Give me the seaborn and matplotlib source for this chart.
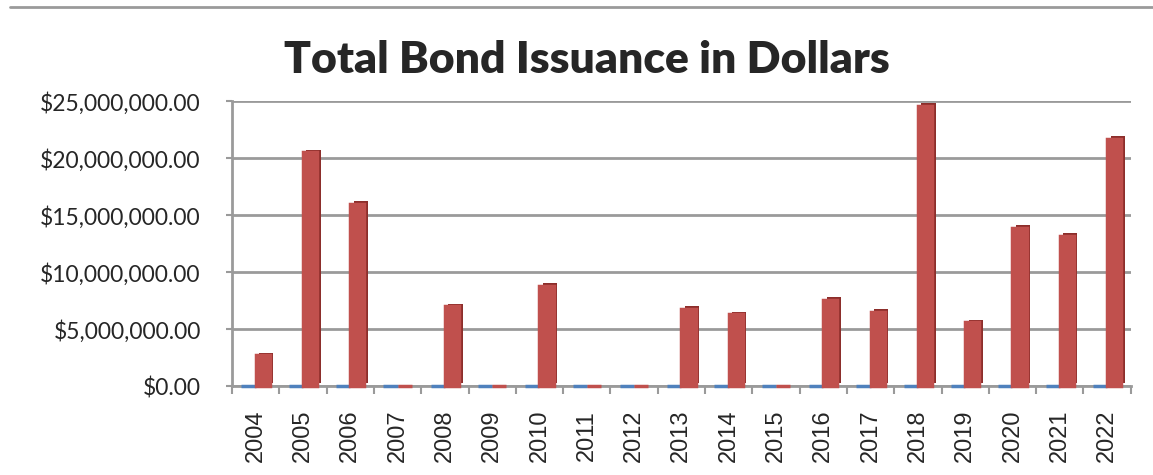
import numpy as np
import pandas as pd
import matplotlib
matplotlib.use("Agg")
from matplotlib import pyplot as plt
from matplotlib import patheffects as pe
from matplotlib.lines import Line2D
from matplotlib.ticker import FuncFormatter, FixedLocator
import seaborn as sns

# Data
years = ["2004", "2005", "2006", "2007", "2008", "2009", "2010", "2011", "2012", "2013",
         "2014", "2015", "2016", "2017", "2018", "2019", "2020", "2021", "2022"]
series_names = ["Series 1", "Series 2"]
series_1 = [0, 0, 0, 0, 0, 0, 0, 0, 0, 0, 0, 0, 0, 0, 0, 0, 0, 0, 0]
series_2 = [2.7e6, 20.5e6, 16.0e6, 0, 7.0e6, 0, 8.8e6, 0, 0, 6.8e6,
            6.3e6, 0, 7.6e6, 6.5e6, 24.6e6, 5.6e6, 13.9e6, 13.2e6, 21.7e6]
y_ticks = [0, 5e6, 10e6, 15e6, 20e6, 25e6]

df = pd.DataFrame({
    "Year": years * 2,
    "Series": [series_names[0]] * len(years) + [series_names[1]] * len(years),
    "Amount": series_1 + series_2,
})

sns.set_style("white")
plt.rcParams["font.family"] = ["Lato", "DejaVu Sans"]

fig = plt.figure(figsize=(11.53, 4.75), dpi=100)
ax = fig.add_axes([0.2012, 0.187, 0.7795, 0.6])

sns.barplot(data=df, x="Year", y="Amount", hue="Series", order=years,
            palette=["#4F81BD", "#C0504D"], width=0.6, legend=False,
            linewidth=2.5, saturation=1, ax=ax)

# fake 3D look: darker extrusion behind each bar
for bar in ax.patches:
    face = matplotlib.colors.to_hex(bar.get_facecolor())
    dark = "#8C2E2B" if face.lower() == "#c0504d" else "#2F5A8C"
    bar.set_edgecolor(face)
    bar.set_zorder(3)
    bar.set_clip_on(False)
    bar.set_path_effects([pe.SimplePatchShadow(offset=(2.5, 2), shadow_rgbFace=dark, alpha=1),
                          pe.Normal()])

ax.set_ylim(0, 25e6)
ax.set_xlim(-0.5, len(years) - 0.5)
ax.yaxis.set_major_locator(FixedLocator(y_ticks))
ax.yaxis.set_major_formatter(FuncFormatter(lambda v, p: f"${v:,.2f}"))
ax.yaxis.grid(True, color="#9a9a9a", lw=2)
ax.set_axisbelow(True)

ax.set_xlabel("")
ax.set_ylabel("")
ax.tick_params(axis="y", labelsize=16.5, length=4.5, width=1.5, color="#9a9a9a", pad=18, left=True)
ax.tick_params(axis="x", which="major", length=0, pad=17, labelsize=17,
               labelrotation=90)
for lab in ax.get_xticklabels():
    lab.set_fontfamily("Liberation Sans")
ax.xaxis.set_minor_locator(FixedLocator(np.arange(-0.5, len(years), 1.0)))
ax.tick_params(axis="x", which="minor", length=6, width=1.5, color="#9a9a9a", bottom=True)

for s in ["top", "right"]:
    ax.spines[s].set_visible(False)
for s in ["left", "bottom"]:
    ax.spines[s].set_color("#9a9a9a")
    ax.spines[s].set_linewidth(2)

fig.text(0.509, 0.874, "Total Bond Issuance in Dollars", ha="center", va="center",
         fontsize=32, fontweight="heavy")
fig.add_artist(Line2D([0.009, 1.0], [0.985, 0.985], transform=fig.transFigure,
                      color="#9a9a9a", lw=2))

fig.savefig("out.png", dpi=100)
